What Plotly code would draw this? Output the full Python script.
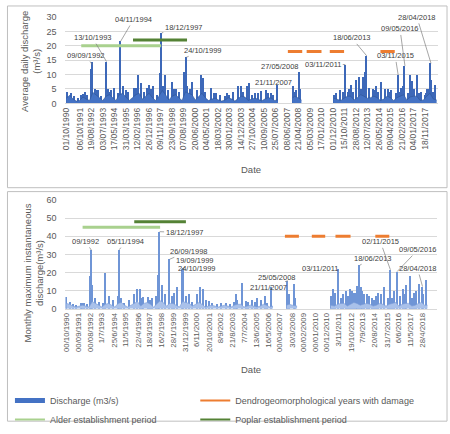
import plotly.graph_objects as go

W, H = 450, 434
def px(x): return x / W
def py(y): return 1 - y / H

# ---------------- TOP CHART DATA (average daily discharge, m3/s) ----------------
top_base_dates = [
 "1990-10-01","1991-01-01","1991-04-01","1991-07-01","1991-10-01",
 "1992-01-01","1992-04-01","1992-07-01","1992-10-01",
 "1993-01-01","1993-04-01","1993-07-01","1993-10-01",
 "1994-01-01","1994-04-01","1994-07-01","1994-10-01",
 "1995-01-01","1995-04-01","1995-07-01","1995-10-01",
 "1996-01-01","1996-04-01","1996-07-01","1996-10-01",
 "1997-01-01","1997-04-01","1997-07-01","1997-10-01",
 "1998-01-01","1998-04-01","1998-07-01","1998-10-01",
 "1999-01-01","1999-04-01","1999-07-01","1999-10-01",
 "2000-01-01","2000-04-01","2000-07-01","2000-10-01",
 "2001-01-01","2001-04-01","2001-07-01","2001-10-01",
 "2002-01-01","2002-04-01","2002-07-01","2002-10-01",
 "2003-01-01","2003-04-01","2003-07-01","2003-10-01",
 "2004-01-01","2004-04-01","2004-07-01","2004-10-01",
 "2005-01-01","2005-04-01","2005-07-01","2005-10-01",
 "2006-01-01","2006-04-01","2006-07-01","2006-09-30",None,
 "2007-11-10","2008-01-01","2008-04-01","2008-07-10",None,
 "2010-12-20","2011-04-01","2011-07-01","2011-10-01",
 "2012-01-01","2012-04-01","2012-07-01","2012-10-01",
 "2013-01-01","2013-04-01","2013-07-01","2013-10-01",
 "2014-01-01","2014-04-01","2014-07-01","2014-10-01",
 "2015-01-01","2015-04-01","2015-07-01","2015-10-01",
 "2016-01-01","2016-04-01","2016-07-01","2016-10-01",
 "2017-01-01","2017-04-01","2017-07-01","2017-10-01",
 "2018-01-01","2018-04-01","2018-07-01","2018-09-30"]
top_base_vals = [
 1.8,2.8,1.5,0.8,1.0,
 2.2,1.5,1.0,3.8,
 3.0,2.0,1.0,2.5,
 3.0,2.0,1.0,3.0,
 3.5,2.2,1.0,2.0,
 3.0,3.5,1.5,2.5,
 3.5,2.0,1.0,2.5,
 4.5,3.0,1.2,2.5,
 3.0,2.0,1.0,4.0,
 3.5,3.0,1.2,2.5,
 3.5,2.0,1.0,1.5,
 1.8,1.2,0.8,1.2,
 2.0,1.5,0.8,1.8,
 2.5,2.2,1.0,1.5,
 1.8,1.5,0.8,1.5,
 2.0,1.8,1.0,1.2,None,
 1.8,2.5,2.0,1.2,None,
 1.8,1.5,1.0,1.8,
 2.5,2.5,1.2,2.0,
 3.0,2.5,1.8,2.0,
 2.5,2.0,1.0,1.5,
 2.5,2.0,1.0,2.0,
 2.5,3.0,1.2,2.2,
 2.5,2.5,1.0,1.2,
 2.5,3.5,1.5,1.2]

top_peak_dates = [
 "1990-11-15","1991-02-10","1991-05-10","1991-08-20","1991-11-20","1992-01-20","1992-03-10",
 "1992-05-15","1992-08-20","1992-09-09","1992-12-01","1993-01-20","1993-03-10","1993-06-10",
 "1993-10-13","1993-12-15","1994-01-25","1994-03-01","1994-06-01","1994-09-10","1994-11-04",
 "1995-02-01","1995-04-10","1995-06-10","1995-11-20","1995-12-20","1996-01-25","1996-03-15",
 "1996-06-01","1996-09-10","1996-11-15","1997-01-20","1997-03-01","1997-05-01","1997-08-10",
 "1997-11-20","1997-12-18","1998-01-25","1998-04-01","1998-06-10","1998-10-15","1998-12-10",
 "1999-02-10","1999-04-10","1999-09-10","1999-10-24","1999-12-10","2000-02-10","2000-04-20",
 "2000-09-10","2000-12-20","2001-02-15","2001-04-10","2001-09-10","2001-12-10","2002-02-10",
 "2002-06-10","2002-10-10","2002-12-01","2003-02-10","2003-05-10","2003-10-10","2003-12-20",
 "2004-02-10","2004-06-10","2004-07-25","2004-11-10","2005-01-20","2005-04-10","2005-07-10",
 "2005-11-20","2006-01-20","2006-04-10","2006-06-10","2006-09-20",
 "2007-11-21","2008-01-15","2008-03-10","2008-05-27","2008-06-20",
 "2011-01-20","2011-03-10","2011-06-15","2011-09-10","2011-11-03","2012-01-20","2012-02-20",
 "2012-04-15","2012-06-10","2012-09-10","2012-11-20","2013-01-20","2013-03-10","2013-05-10",
 "2013-06-18","2013-09-10","2013-12-10","2014-01-20","2014-03-10","2014-05-20","2014-08-10",
 "2014-11-10","2015-02-10","2015-03-10","2015-05-15","2015-09-10","2015-11-03","2016-01-10",
 "2016-02-10","2016-03-20","2016-05-09","2016-08-10","2016-10-20","2016-12-10","2017-02-10",
 "2017-04-10","2017-06-10","2017-08-10","2017-11-20","2017-12-20","2018-01-20","2018-02-20",
 "2018-04-28","2018-05-20","2018-07-10","2018-09-10"]
top_peak_vals = [
 3.8,3.5,2.5,1.8,3.0,3.2,4.0,
 2.8,12.0,14.5,5.0,4.5,4.8,2.5,
 14.5,5.0,4.0,4.5,5.5,3.5,21.5,
 6.0,4.5,4.0,5.5,4.0,5.5,10.0,
 7.0,4.0,5.5,6.5,5.0,6.0,3.0,
 10.5,24.5,6.0,10.0,4.5,7.5,5.0,
 5.0,4.0,11.0,16.0,6.0,5.0,7.5,
 4.5,9.7,8.7,4.0,5.5,3.5,3.5,
 3.0,2.5,3.5,3.0,4.0,6.0,5.9,
 4.0,6.0,7.0,3.0,3.5,3.5,4.4,
 4.8,3.5,3.6,3.0,6.5,
 6.0,4.0,4.5,11.0,5.0,
 3.0,3.5,4.5,4.0,13.5,4.0,5.0,
 6.5,4.0,8.2,9.0,5.0,9.3,11.0,
 16.5,5.5,5.0,4.5,6.0,4.0,7.5,
 5.0,5.0,4.0,4.5,3.5,9.9,4.0,
 5.5,6.0,13.0,3.5,9.9,7.7,5.0,
 9.9,3.5,4.0,3.0,3.5,5.0,5.0,
 13.9,8.0,4.0,6.5]

top_dendro_dates = ["2007-07-01","2008-08-01",None,"2008-12-01","2010-01-15",None,
                    "2010-09-01","2011-10-01",None,"2014-07-01","2015-08-01"]
top_dendro_vals = [18,18,None,18,18,None,18,18,None,18,18]
top_alder_dates = ["1991-11-15","1997-12-01"]
top_alder_vals = [20,20]
top_poplar_dates = ["1995-10-15","1999-11-15"]
top_poplar_vals = [22,22]

top_tick_dates = ["1990-10-01","1991-10-06","1992-08-19","1993-07-03","1994-05-17","1995-03-31",
 "1996-02-12","1996-12-26","1997-11-09","1998-09-23","1999-08-07","2000-06-20","2001-05-04",
 "2002-03-18","2003-01-30","2003-12-14","2004-10-27","2005-09-10","2006-07-25","2007-06-08",
 "2008-04-21","2009-03-05","2010-01-17","2010-12-01","2011-10-15","2012-08-28","2013-07-12",
 "2014-05-26","2015-04-09","2016-02-21","2017-01-04","2017-11-18"]
top_tick_text = ["01/10/1990","06/10/1991","19/08/1992","03/07/1993","17/05/1994","31/03/1995",
 "12/02/1996","26/12/1996","09/11/1997","23/09/1998","07/08/1999","20/06/2000","04/05/2001",
 "18/03/2002","30/01/2003","14/12/2003","27/10/2004","10/09/2005","25/07/2006","08/06/2007",
 "21/04/2008","05/03/2009","17/01/2010","01/12/2010","15/10/2011","28/08/2012","12/07/2013",
 "26/05/2014","09/04/2015","21/02/2016","04/01/2017","18/11/2017"]

# label text, point date, point value, text offset (px)
top_labels = [
 ("09/09/1992","1992-09-09",13.5,-6,-9),
 ("13/10/1993","1993-10-13",14.5,-14,-24),
 ("04/11/1994","1994-11-04",21.5,13,-22),
 ("18/12/1997","1997-12-18",24.5,22,-5),
 ("24/10/1999","1999-10-24",16.0,17,-7),
 ("21/11/2007","2007-11-21",6.0,-20,-4),
 ("27/05/2008","2008-05-27",11.0,-20,-5),
 ("03/11/2011","2011-11-03",13.5,-22,0),
 ("18/06/2013","2013-06-18",16.5,-15,-18),
 ("03/11/2015","2015-11-03",9.9,-3,-19),
 ("09/05/2016","2016-05-09",13.0,-5,-37),
 ("28/04/2018","2018-04-28",13.9,-14,-46)]

# ---------------- BOTTOM CHART DATA (monthly max instantaneous discharge) ----------------
bot_base_dates = [
 "1990-10-01","1991-01-01","1991-04-01","1991-07-01","1991-10-01",
 "1992-01-01","1992-04-01","1992-07-01","1992-10-01",
 "1993-01-01","1993-04-01","1993-07-01","1993-10-01",
 "1994-01-01","1994-04-01","1994-07-01","1994-10-01",
 "1995-01-01","1995-04-01","1995-07-01","1995-10-01",
 "1996-01-01","1996-04-01","1996-07-01","1996-10-01",
 "1997-01-01","1997-04-01","1997-07-01","1997-10-01",
 "1998-01-01","1998-04-01","1998-07-01","1998-10-01",
 "1999-01-01","1999-04-01","1999-07-01","1999-10-01",
 "2000-01-01","2000-04-01","2000-07-01","2000-10-01",
 "2001-01-01","2001-04-01","2001-07-01","2001-10-01",
 "2002-01-01","2002-04-01","2002-07-01","2002-10-01",
 "2003-01-01","2003-04-01","2003-07-01","2003-10-01",
 "2004-01-01","2004-04-01","2004-07-01","2004-10-01",
 "2005-01-01","2005-04-01","2005-07-01","2005-10-01",
 "2006-01-01","2006-04-01","2006-07-01","2006-09-30",None,
 "2007-10-20","2008-01-01","2008-04-01","2008-08-10",None,
 "2011-03-20","2011-07-01","2011-10-01",
 "2012-01-01","2012-04-01","2012-07-01","2012-10-01",
 "2013-01-01","2013-04-01","2013-07-01","2013-10-01",
 "2014-01-01","2014-04-01","2014-07-01","2014-10-01",
 "2015-01-01","2015-04-01","2015-07-01","2015-10-01",
 "2016-01-01","2016-04-01","2016-07-01","2016-10-01",
 "2017-01-01","2017-04-01","2017-07-01","2017-10-01",
 "2018-01-01","2018-04-01","2018-07-01","2018-09-15"]
bot_base_vals = [
 3.0,2.5,1.5,1.0,1.5,
 2.0,1.5,1.0,4.0,
 3.0,2.0,1.0,2.5,
 3.0,2.0,1.0,3.0,
 3.5,2.0,1.0,2.0,
 3.0,4.0,1.5,3.0,
 3.5,2.5,1.0,3.0,
 4.5,3.5,1.5,3.0,
 3.0,2.0,1.0,4.0,
 3.5,3.0,1.5,2.5,
 3.5,2.5,1.0,1.5,
 2.0,1.5,1.0,1.5,
 2.0,1.5,1.0,2.0,
 2.5,2.5,1.0,1.5,
 2.0,1.5,1.0,1.5,
 2.5,2.0,1.0,1.5,None,
 2.0,2.5,2.0,1.5,None,
 2.0,1.5,2.5,
 3.0,3.0,1.5,2.5,
 3.5,3.0,2.0,2.5,
 3.0,2.5,1.5,2.0,
 3.0,2.5,1.5,2.5,
 3.0,3.5,1.5,2.5,
 3.0,3.0,1.5,2.0,
 3.0,3.5,2.0,2.0]

bot_peak_dates = [
 "1990-10-15","1991-01-15","1991-04-10","1991-07-10","1991-12-01","1992-01-10","1992-03-01",
 "1992-05-10","1992-08-15","1992-09-09","1992-10-20","1993-01-15","1993-05-01","1993-08-10",
 "1993-10-13","1994-02-10","1994-06-01","1994-10-01","1994-11-05","1995-01-20","1995-04-10",
 "1995-09-01","1996-01-10","1996-04-01","1996-06-15","1996-08-10","1996-10-01","1997-02-01",
 "1997-04-10","1997-06-01","1997-09-10","1997-11-15","1997-12-18","1998-03-01","1998-06-10",
 "1998-09-26","1998-12-10","1999-02-15","1999-05-01","1999-09-19","1999-10-24","2000-01-20",
 "2000-04-01","2000-07-10","2000-12-01","2001-02-15","2001-05-15","2001-08-10","2001-11-01",
 "2002-01-20","2002-06-01","2002-10-10","2003-03-01","2003-06-10","2003-10-01","2003-11-20",
 "2004-01-10","2004-05-15","2004-09-01","2004-11-10","2005-03-01","2005-05-10","2005-08-01",
 "2005-11-10","2006-03-01","2006-05-10","2006-08-15",
 "2007-11-21","2008-01-15","2008-05-25","2008-07-01",
 "2011-04-10","2011-06-01","2011-08-10","2011-11-03","2012-01-15","2012-03-10","2012-06-01",
 "2012-08-10","2012-10-01","2012-12-10","2013-01-15","2013-03-10","2013-04-15","2013-06-18",
 "2013-08-10","2013-09-01","2013-11-10","2014-01-15","2014-03-10","2014-06-01","2014-08-10",
 "2014-10-01","2014-12-10","2015-03-10","2015-06-01","2015-09-10","2015-11-02","2016-01-15",
 "2016-03-10","2016-05-09","2016-08-10","2016-11-01","2017-01-10","2017-02-01","2017-05-15",
 "2017-07-10","2017-09-01","2017-11-10","2018-02-01","2018-04-28","2018-06-10","2018-08-15"]
bot_peak_vals = [
 6.3,4.0,2.5,2.0,3.0,3.5,3.0,
 2.5,18.3,32.2,13.0,6.0,4.0,3.0,
 20.0,7.0,5.0,7.0,32.6,6.0,3.0,
 5.0,8.0,11.2,11.0,6.0,6.5,6.5,
 5.0,6.0,7.0,18.7,42.5,13.4,8.0,
 27.3,7.0,9.0,12.1,22.0,22.6,7.0,
 8.5,4.0,8.0,12.0,11.0,5.0,4.5,
 3.5,2.5,3.0,3.0,2.5,4.0,8.0,
 5.0,14.4,4.5,4.0,5.0,4.0,6.0,
 5.0,7.0,3.0,12.0,
 15.5,8.0,14.0,6.0,
 7.0,11.0,9.0,22.0,6.0,8.0,10.0,
 7.0,11.0,10.0,9.0,9.0,12.5,24.0,
 12.0,10.0,8.0,8.0,7.0,6.0,5.0,
 7.0,9.0,8.0,12.0,6.0,21.5,6.0,
 10.0,20.5,7.0,11.0,8.0,13.0,18.3,
 6.0,9.0,10.0,14.0,12.3,8.0,16.0]

bot_dendro_dates = ["2007-09-01","2008-10-01",None,"2009-10-01","2010-10-15",None,
                    "2011-08-01","2012-10-01",None,"2014-09-01","2015-10-01"]
bot_dendro_vals = [40,40,None,40,40,None,40,40,None,40,40]
bot_alder_dates = ["1992-01-01","1998-01-01"]
bot_alder_vals = [45,45]
bot_poplar_dates = ["1996-01-01","2000-01-01"]
bot_poplar_vals = [48,48]

bot_tick_dates = ["1990-10-01","1991-09-01","1992-08-01","1993-07-01","1994-06-25","1995-05-11",
 "1996-04-22","1997-03-18","1998-02-16","1999-01-28","1999-12-31","2000-11-06","2001-10-20",
 "2002-09-08","2003-08-21","2004-07-07","2005-06-13","2006-05-16","2007-04-01","2008-03-30",
 "2009-02-01","2010-01-01","2010-12-01","2011-11-03","2012-10-19","2013-09-07","2014-08-20",
 "2015-07-31","2016-06-06","2017-05-11","2018-04-28"]
bot_tick_text = ["00/10/1990","00/09/1991","00/08/1992","1/7/1993","25/6/1994","11/5/1995",
 "22/4/1996","18/3/1997","16/2/1998","28/1/1999","31/12/1999","6/11/2000","20/10/2001",
 "8/9/2002","21/8/2003","7/7/2004","13/6/2005","16/5/2006","00/04/2007","30/3/2008",
 "00/02/2009","00/01/2010","00/12/2010","3/11/2011","19/10/2012","7/9/2013","20/8/2014",
 "31/7/2015","6/6/2016","11/5/2017","28/4/2018"]

bot_labels = [
 ("09/1992","1992-09-09",32.2,-6,-9),
 ("05/11/1994","1994-11-05",32.6,6,-8),
 ("18/12/1997","1997-12-18",42.5,25,1),
 ("26/09/1998","1998-09-26",27.3,19,-8),
 ("19/09/1999","1999-09-19",22.0,13,-8),
 ("24/10/1999","1999-10-24",22.6,14,1),
 ("21/11/2007","2007-11-21",15.5,-19,7),
 ("25/05/2008","2008-05-25",14.0,-17,-6),
 ("03/11/2011","2011-11-03",22.0,-19,0),
 ("18/06/2013","2013-06-18",24.0,13,-7),
 ("02/11/2015","2015-11-02",21.5,-10,-28),
 ("09/05/2016","2016-05-09",20.5,21,-22),
 ("28/04/2018","2018-04-28",12.3,-5,-18)]

# ---------------- STYLE ----------------
FONT = "Liberation Sans"
BLUE = "#4472C4"
ORANGE = "#ED7D31"
ALDER = "#A9D18E"
POPLAR = "#548235"
GRID = "#D9D9D9"
TXT = "#595959"
DAY_MS = 86400000


def segments(xs, ys):
    """Split a series at None gaps so each part is filled on its own."""
    out, cx, cy = [], [], []
    for a, b in zip(xs, ys):
        if a is None or b is None:
            if cx:
                out.append((cx, cy))
            cx, cy = [], []
        else:
            cx.append(a)
            cy.append(b)
    if cx:
        out.append((cx, cy))
    return out


fig = go.Figure()

# top
for sx, sy in segments(top_base_dates, top_base_vals):
    fig.add_trace(go.Scatter(x=sx, y=sy, mode="lines", fill="tozeroy",
        line=dict(color="#2F5597", width=0.6), fillcolor=BLUE,
        showlegend=False, xaxis="x", yaxis="y", hoverinfo="skip"))
fig.add_trace(go.Bar(x=top_peak_dates, y=top_peak_vals, width=32 * DAY_MS,
    marker=dict(color="#3D68B8", line=dict(width=0)), showlegend=False, xaxis="x", yaxis="y"))
fig.add_trace(go.Scatter(x=top_dendro_dates, y=top_dendro_vals, mode="lines",
    line=dict(color=ORANGE, width=3), showlegend=False, xaxis="x", yaxis="y"))
fig.add_trace(go.Scatter(x=top_alder_dates, y=top_alder_vals, mode="lines",
    line=dict(color=ALDER, width=3), showlegend=False, xaxis="x", yaxis="y"))
fig.add_trace(go.Scatter(x=top_poplar_dates, y=top_poplar_vals, mode="lines",
    line=dict(color=POPLAR, width=3), showlegend=False, xaxis="x", yaxis="y"))

# bottom
for sx, sy in segments(bot_base_dates, bot_base_vals):
    fig.add_trace(go.Scatter(x=sx, y=sy, mode="lines", fill="tozeroy",
        line=dict(color="#7A9CD8", width=0.6), fillcolor="#A9C1EA",
        showlegend=False, xaxis="x2", yaxis="y2", hoverinfo="skip"))
fig.add_trace(go.Bar(x=bot_peak_dates, y=bot_peak_vals, width=34 * DAY_MS,
    marker=dict(color="#6F95D6", line=dict(width=0)), showlegend=False, xaxis="x2", yaxis="y2"))
fig.add_trace(go.Scatter(x=bot_dendro_dates, y=bot_dendro_vals, mode="lines",
    line=dict(color=ORANGE, width=3), showlegend=False, xaxis="x2", yaxis="y2"))
fig.add_trace(go.Scatter(x=bot_alder_dates, y=bot_alder_vals, mode="lines",
    line=dict(color=ALDER, width=3), showlegend=False, xaxis="x2", yaxis="y2"))
fig.add_trace(go.Scatter(x=bot_poplar_dates, y=bot_poplar_vals, mode="lines",
    line=dict(color=POPLAR, width=3), showlegend=False, xaxis="x2", yaxis="y2"))

# legend entries (two columns = two legends)
for name, col, w, lg in [("Discharge (m3/s)", BLUE, 5, "legend"),
                         ("Alder establishment period", ALDER, 2, "legend"),
                         ("Dendrogeomorphological years with damage", ORANGE, 2, "legend2"),
                         ("Poplar establishment period", POPLAR, 2, "legend2")]:
    fig.add_trace(go.Scatter(x=[None], y=[None], mode="lines", name=name, legend=lg,
        line=dict(color=col, width=w), xaxis="x2", yaxis="y2"))

ann = []
for t, d, v, ax, ay in top_labels:
    ann.append(dict(x=d, y=v, xref="x", yref="y", text=t, showarrow=True, arrowhead=0,
        arrowwidth=0.7, arrowcolor="#7F7F7F", ax=ax, ay=ay,
        font=dict(family=FONT, size=7.5, color="#404040")))
for t, d, v, ax, ay in bot_labels:
    ann.append(dict(x=d, y=v, xref="x2", yref="y2", text=t, showarrow=True, arrowhead=0,
        arrowwidth=0.7, arrowcolor="#7F7F7F", ax=ax, ay=ay,
        font=dict(family=FONT, size=7.5, color="#404040")))

# axis titles
ann.append(dict(x=px(26.5), y=py(58), xref="paper", yref="paper", showarrow=False,
    xanchor="center", yanchor="middle",
    text="Average daily discharge<br>(m³/s)", textangle=-90,
    font=dict(family=FONT, size=9.5, color=TXT)))
ann.append(dict(x=px(30), y=py(274), xref="paper", yref="paper", showarrow=False,
    xanchor="center", yanchor="middle",
    text="Monthly maximum instantaneous<br>discharge(m³/s)", textangle=-90,
    font=dict(family=FONT, size=9.5, color=TXT)))
ann.append(dict(x=px(249), y=py(168), xref="paper", yref="paper", showarrow=False,
    xanchor="center", yanchor="middle",
    text="Date", font=dict(family=FONT, size=9.5, color=TXT)))
ann.append(dict(x=px(249), y=py(373), xref="paper", yref="paper", showarrow=False,
    xanchor="center", yanchor="middle",
    text="Date", font=dict(family=FONT, size=9.5, color=TXT)))

shapes = [
    dict(type="rect", xref="paper", yref="paper", x0=px(3.5), x1=px(447), y0=py(187), y1=py(1),
         line=dict(color="#BFBFBF", width=1)),
    dict(type="rect", xref="paper", yref="paper", x0=px(3.5), x1=px(447), y0=py(426), y1=py(191),
         line=dict(color="#BFBFBF", width=1)),
]

xcommon = dict(type="date", showgrid=False, showline=True, linecolor=GRID, linewidth=1,
               ticks="", tickangle=-90, zeroline=False)
ycommon = dict(showgrid=True, gridcolor=GRID, gridwidth=1, zeroline=False, showline=False,
               ticks="", tickfont=dict(family=FONT, size=9, color=TXT), ticklabelstandoff=8)
legcommon = dict(orientation="v", xanchor="left", yanchor="top",
                 font=dict(family=FONT, size=9, color=TXT), bgcolor="rgba(0,0,0,0)",
                 tracegroupgap=0, itemwidth=30)

fig.update_layout(
    width=W, height=H, margin=dict(l=0, r=0, t=0, b=0),
    paper_bgcolor="white", plot_bgcolor="white",
    font=dict(family=FONT, color=TXT),
    barmode="overlay", bargap=0,
    xaxis=dict(**xcommon, domain=[px(62), px(438)], anchor="y",
               range=["1990-09-05", "2018-11-10"], tickvals=top_tick_dates, ticktext=top_tick_text,
               tickfont=dict(family=FONT, size=8.5, color=TXT)),
    yaxis=dict(**ycommon, domain=[py(100.7), py(12.3)], anchor="x", range=[0, 30], dtick=5),
    xaxis2=dict(**xcommon, domain=[px(62), px(437)], anchor="y2",
                range=["1990-09-03", "2019-06-15"], tickvals=bot_tick_dates, ticktext=bot_tick_text,
                tickfont=dict(family=FONT, size=7.8, color=TXT)),
    yaxis2=dict(**ycommon, domain=[py(311), py(199.5)], anchor="x2", range=[0, 60], dtick=10),
    legend=dict(**legcommon, x=px(6), y=py(390)),
    legend2=dict(**legcommon, x=px(193), y=py(390)),
    annotations=ann, shapes=shapes,
)

fig.write_html("out.html")
